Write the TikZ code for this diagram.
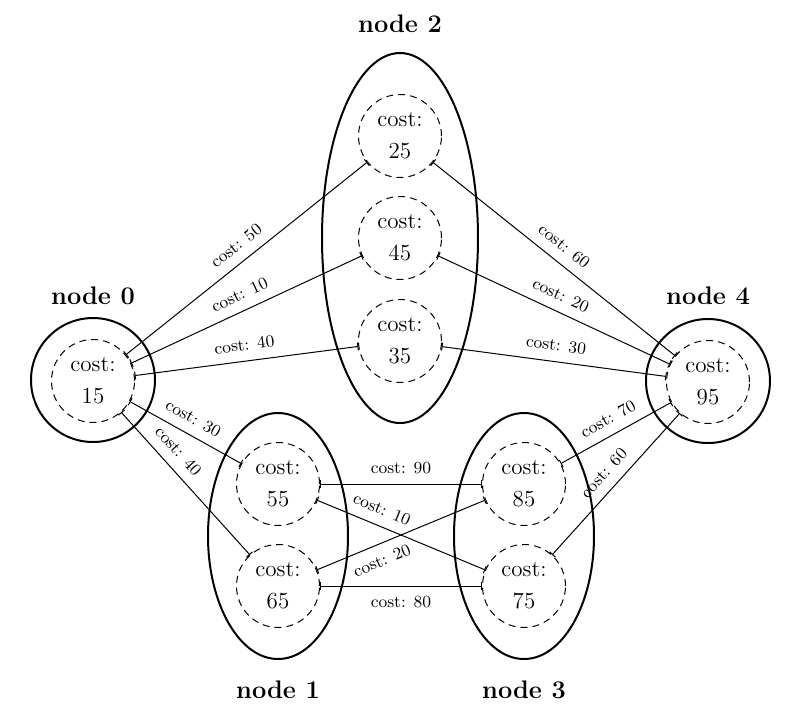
\documentclass[tikz,border=0pt]{standalone}
\usepackage{fontspec}
\usetikzlibrary{shapes.geometric,arrows.meta}
\begin{document}
\begin{tikzpicture}[x=0.5pt,y=-0.5pt,
  inner/.style={circle, draw, dash pattern=on 3.5pt off 2.5pt, line width=0.5pt, minimum size=41.5pt, inner sep=0pt, align=center, font=\fontsize{11.5}{16}\selectfont},
  outerc/.style={circle, draw, line width=1pt, minimum size=62pt, inner sep=0pt},
  outere/.style={ellipse, draw, line width=1pt, inner sep=0pt},
  title/.style={anchor=base, inner sep=0pt, font=\bfseries\fontsize{12.7}{15}\selectfont},
  link/.style={line width=0.5pt, {Bar[width=4pt]}-{Bar[width=4pt]}},
  lab/.style={font=\fontsize{8.5}{10}\selectfont, sloped, inner sep=0.5pt},
]
\useasboundingbox (0,0) rectangle (800,720);

% outer groups
\node[outerc] (o0) at (93,380) {};
\node[outerc] (o4) at (708,381) {};
\node[outere, minimum width=78pt, minimum height=185pt] (o2) at (400,238) {};
\node[outere, minimum width=70pt, minimum height=123pt] (o1) at (278,536) {};
\node[outere, minimum width=70pt, minimum height=123pt] (o3) at (524,536) {};

% titles
\node[title] (t0) at (93,304) {node 0};
\node[title] (t2) at (400,32) {node 2};
\node[title] (t4) at (708,304) {node 4};
\node[title] (t1) at (278,698) {node 1};
\node[title] (t3) at (524,698) {node 3};

% inner cost nodes
\node[inner] (c15) at (93,381) {cost:\\15};
\node[inner] (c25) at (400,136) {cost:\\25};
\node[inner] (c45) at (400,238) {cost:\\45};
\node[inner] (c35) at (400,341) {cost:\\35};
\node[inner] (c55) at (278,484) {cost:\\55};
\node[inner] (c65) at (278,586) {cost:\\65};
\node[inner] (c85) at (524,484) {cost:\\85};
\node[inner] (c75) at (524,586) {cost:\\75};
\node[inner] (c95) at (708,382) {cost:\\95};

% links
\draw[link] (c15) -- node[lab, above=4.5pt] {cost: 50} (c25);
\draw[link] (c15) -- node[lab, above=4.5pt] {cost: 10} (c45);
\draw[link] (c15) -- node[lab, above=4.5pt] {cost: 40} (c35);
\draw[link] (c15) -- node[lab, above=4.5pt] {cost: 30} (c55);
\draw[link] (c15) -- node[lab, above=4.5pt, pos=0.35] {cost: 40} (c65);
\draw[link] (c25) -- node[lab, above=4.5pt] {cost: 60} (c95);
\draw[link] (c45) -- node[lab, above=4.5pt] {cost: 20} (c95);
\draw[link] (c35) -- node[lab, above=4.5pt] {cost: 30} (c95);
\draw[link] (c55) -- node[lab, above=4.5pt] {cost: 90} (c85);
\draw[link] (c55) -- node[lab, above=4.5pt, pos=0.35] {cost: 10} (c75);
\draw[link] (c65) -- node[lab, below=4.5pt, pos=0.35] {cost: 20} (c85);
\draw[link] (c65) -- node[lab, below=4.5pt] {cost: 80} (c75);
\draw[link] (c85) -- node[lab, above=4.5pt] {cost: 70} (c95);
\draw[link] (c75) -- node[lab, above=4.5pt] {cost: 60} (c95);
\end{tikzpicture}
\end{document}
